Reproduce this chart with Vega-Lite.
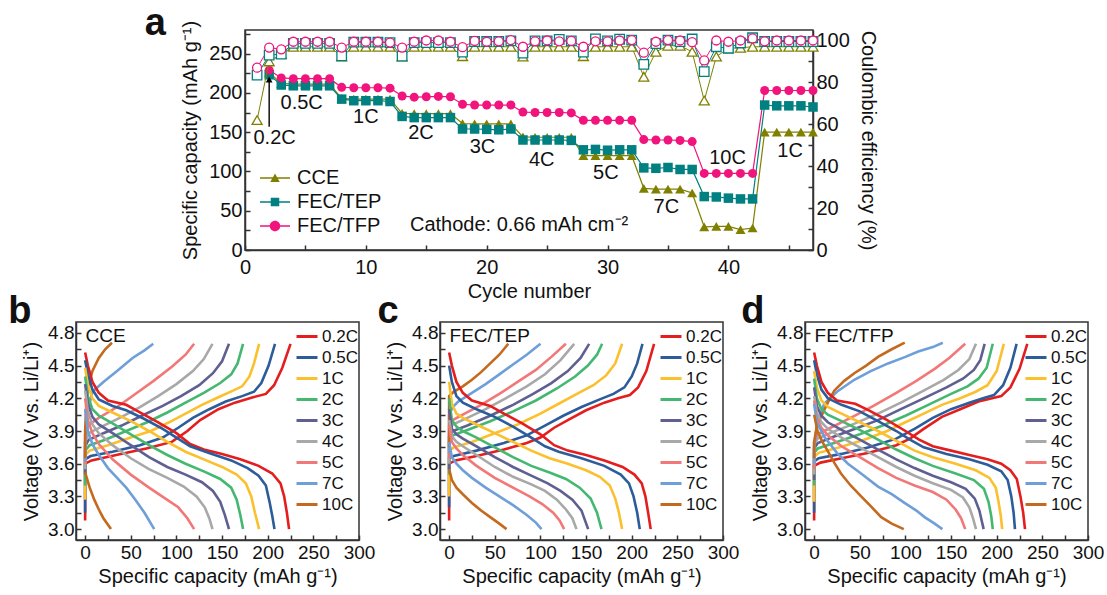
{
"$schema": "https://vega.github.io/schema/vega-lite/v6.json",
"background": "white",
"padding": {"left": 7, "top": 4, "right": 2, "bottom": 2},
"config": {
  "font": "Liberation Sans",
  "concat": {"spacing": 0},
  "view": {"stroke": "#333333", "strokeWidth": 1.5},
  "axis": {"domainColor": "#333333", "domainWidth": 1.5, "tickColor": "#333333", "tickWidth": 1.5, "tickSize": -5, "labelColor": "#111111", "titleColor": "#111111", "titleFontWeight": "normal", "grid": false, "labelFlush": false, "labelOverlap": false, "labelFont": "Liberation Sans", "titleFont": "Liberation Sans"},
  "legend": {"labelFont": "Liberation Sans", "labelColor": "#111111"},
  "text": {"font": "Liberation Sans", "color": "#111111"}
},
"datasets": {
"cyc": [
{"c":1,"s":"CCE","q":null,"e":62},{"c":2,"s":"CCE","q":226,"e":90},{"c":3,"s":"CCE","q":212,"e":93.5},{"c":4,"s":"CCE","q":211,"e":97},{"c":5,"s":"CCE","q":211,"e":97},{"c":6,"s":"CCE","q":211,"e":97},{"c":7,"s":"CCE","q":211,"e":97},{"c":8,"s":"CCE","q":193,"e":92.3},{"c":9,"s":"CCE","q":192,"e":97},{"c":10,"s":"CCE","q":192,"e":97},{"c":11,"s":"CCE","q":192,"e":97},{"c":12,"s":"CCE","q":192,"e":97},{"c":13,"s":"CCE","q":174,"e":92.3},{"c":14,"s":"CCE","q":173.5,"e":97},{"c":15,"s":"CCE","q":173.5,"e":97},{"c":16,"s":"CCE","q":173.5,"e":97},{"c":17,"s":"CCE","q":173.5,"e":97},{"c":18,"s":"CCE","q":161,"e":92.5},{"c":19,"s":"CCE","q":160.5,"e":97},{"c":20,"s":"CCE","q":160.5,"e":97},{"c":21,"s":"CCE","q":160.5,"e":97},{"c":22,"s":"CCE","q":160.5,"e":97},{"c":23,"s":"CCE","q":144,"e":92.3},{"c":24,"s":"CCE","q":143.5,"e":97},{"c":25,"s":"CCE","q":143.5,"e":97},{"c":26,"s":"CCE","q":143.5,"e":97},{"c":27,"s":"CCE","q":143.5,"e":97},{"c":28,"s":"CCE","q":120,"e":92.5},{"c":29,"s":"CCE","q":120,"e":97},{"c":30,"s":"CCE","q":120,"e":97},{"c":31,"s":"CCE","q":120,"e":97},{"c":32,"s":"CCE","q":120,"e":97},{"c":33,"s":"CCE","q":78.5,"e":82.7},{"c":34,"s":"CCE","q":77.5,"e":94.6},{"c":35,"s":"CCE","q":77.5,"e":97.5},{"c":36,"s":"CCE","q":77.5,"e":97.5},{"c":37,"s":"CCE","q":72.5,"e":94.6},{"c":38,"s":"CCE","q":29.5,"e":71.3},{"c":39,"s":"CCE","q":30,"e":92.3},{"c":40,"s":"CCE","q":30,"e":96.3},{"c":41,"s":"CCE","q":26,"e":96.5},{"c":42,"s":"CCE","q":28,"e":97},{"c":43,"s":"CCE","q":150,"e":97},{"c":44,"s":"CCE","q":150,"e":97},{"c":45,"s":"CCE","q":150,"e":97},{"c":46,"s":"CCE","q":150,"e":97},{"c":47,"s":"CCE","q":150,"e":97},
{"c":1,"s":"FEC/TEP","q":null,"e":83.5},{"c":2,"s":"FEC/TEP","q":223,"e":93},{"c":3,"s":"FEC/TEP","q":210,"e":93.5},{"c":4,"s":"FEC/TEP","q":209,"e":98.6},{"c":5,"s":"FEC/TEP","q":209,"e":98.6},{"c":6,"s":"FEC/TEP","q":209,"e":98.6},{"c":7,"s":"FEC/TEP","q":209,"e":98.6},{"c":8,"s":"FEC/TEP","q":192,"e":92.7},{"c":9,"s":"FEC/TEP","q":190,"e":99.2},{"c":10,"s":"FEC/TEP","q":190,"e":99.2},{"c":11,"s":"FEC/TEP","q":190,"e":99.2},{"c":12,"s":"FEC/TEP","q":189,"e":99},{"c":13,"s":"FEC/TEP","q":170,"e":92.5},{"c":14,"s":"FEC/TEP","q":168.5,"e":99},{"c":15,"s":"FEC/TEP","q":168.5,"e":99},{"c":16,"s":"FEC/TEP","q":168.5,"e":99},{"c":17,"s":"FEC/TEP","q":168.5,"e":99},{"c":18,"s":"FEC/TEP","q":154,"e":94.4},{"c":19,"s":"FEC/TEP","q":154,"e":99.5},{"c":20,"s":"FEC/TEP","q":153.5,"e":99.5},{"c":21,"s":"FEC/TEP","q":153,"e":99.5},{"c":22,"s":"FEC/TEP","q":154,"e":99.8},{"c":23,"s":"FEC/TEP","q":140,"e":94},{"c":24,"s":"FEC/TEP","q":140,"e":99.8},{"c":25,"s":"FEC/TEP","q":140,"e":99.8},{"c":26,"s":"FEC/TEP","q":140,"e":100.5},{"c":27,"s":"FEC/TEP","q":139.5,"e":99.8},{"c":28,"s":"FEC/TEP","q":127.5,"e":94.4},{"c":29,"s":"FEC/TEP","q":128,"e":100.8},{"c":30,"s":"FEC/TEP","q":127,"e":99.8},{"c":31,"s":"FEC/TEP","q":127.5,"e":100.6},{"c":32,"s":"FEC/TEP","q":127.5,"e":100.2},{"c":33,"s":"FEC/TEP","q":104.5,"e":88.6},{"c":34,"s":"FEC/TEP","q":104,"e":98.5},{"c":35,"s":"FEC/TEP","q":105,"e":100.2},{"c":36,"s":"FEC/TEP","q":102.5,"e":99.5},{"c":37,"s":"FEC/TEP","q":102.5,"e":100.7},{"c":38,"s":"FEC/TEP","q":68,"e":85.1},{"c":39,"s":"FEC/TEP","q":67.5,"e":97},{"c":40,"s":"FEC/TEP","q":66,"e":96.3},{"c":41,"s":"FEC/TEP","q":65,"e":98.8},{"c":42,"s":"FEC/TEP","q":65,"e":101.3},{"c":43,"s":"FEC/TEP","q":184.5,"e":99.5},{"c":44,"s":"FEC/TEP","q":183.5,"e":99.5},{"c":45,"s":"FEC/TEP","q":183.5,"e":99.5},{"c":46,"s":"FEC/TEP","q":183.5,"e":99.5},{"c":47,"s":"FEC/TEP","q":182,"e":99.5},
{"c":1,"s":"FEC/TFP","q":null,"e":87},{"c":2,"s":"FEC/TFP","q":229,"e":96.6},{"c":3,"s":"FEC/TFP","q":219,"e":95.8},{"c":4,"s":"FEC/TFP","q":218,"e":99.4},{"c":5,"s":"FEC/TFP","q":218,"e":99.4},{"c":6,"s":"FEC/TFP","q":218,"e":99.4},{"c":7,"s":"FEC/TFP","q":218,"e":99.4},{"c":8,"s":"FEC/TFP","q":207,"e":96.6},{"c":9,"s":"FEC/TFP","q":206.5,"e":99.4},{"c":10,"s":"FEC/TFP","q":206.5,"e":99.4},{"c":11,"s":"FEC/TFP","q":206.5,"e":99.4},{"c":12,"s":"FEC/TFP","q":206,"e":99},{"c":13,"s":"FEC/TFP","q":196,"e":96.6},{"c":14,"s":"FEC/TFP","q":194.5,"e":99.4},{"c":15,"s":"FEC/TFP","q":195,"e":100},{"c":16,"s":"FEC/TFP","q":195.5,"e":100},{"c":17,"s":"FEC/TFP","q":195,"e":99.4},{"c":18,"s":"FEC/TFP","q":185.5,"e":96.8},{"c":19,"s":"FEC/TFP","q":184.5,"e":99.8},{"c":20,"s":"FEC/TFP","q":184.5,"e":99.4},{"c":21,"s":"FEC/TFP","q":184.5,"e":99.6},{"c":22,"s":"FEC/TFP","q":184.5,"e":100.2},{"c":23,"s":"FEC/TFP","q":175.5,"e":97},{"c":24,"s":"FEC/TFP","q":175,"e":99.6},{"c":25,"s":"FEC/TFP","q":175,"e":100},{"c":26,"s":"FEC/TFP","q":175,"e":99.6},{"c":27,"s":"FEC/TFP","q":174.5,"e":99.8},{"c":28,"s":"FEC/TFP","q":165,"e":97},{"c":29,"s":"FEC/TFP","q":165,"e":99.6},{"c":30,"s":"FEC/TFP","q":165,"e":99.6},{"c":31,"s":"FEC/TFP","q":165,"e":100},{"c":32,"s":"FEC/TFP","q":165,"e":100.2},{"c":33,"s":"FEC/TFP","q":140.5,"e":94.2},{"c":34,"s":"FEC/TFP","q":140,"e":99.4},{"c":35,"s":"FEC/TFP","q":140,"e":100.2},{"c":36,"s":"FEC/TFP","q":139.5,"e":100},{"c":37,"s":"FEC/TFP","q":138,"e":99.2},{"c":38,"s":"FEC/TFP","q":97.5,"e":90.5},{"c":39,"s":"FEC/TFP","q":97.5,"e":100},{"c":40,"s":"FEC/TFP","q":97.5,"e":99.4},{"c":41,"s":"FEC/TFP","q":97.5,"e":100},{"c":42,"s":"FEC/TFP","q":97.5,"e":101},{"c":43,"s":"FEC/TFP","q":203,"e":99.6},{"c":44,"s":"FEC/TFP","q":203,"e":100},{"c":45,"s":"FEC/TFP","q":203,"e":100},{"c":46,"s":"FEC/TFP","q":203,"e":100},{"c":47,"s":"FEC/TFP","q":203,"e":100}
],
"bd": [
{"r":"0.2C","k":"c","q":0,"v":3.08},{"r":"0.2C","k":"c","q":0,"v":3.6},{"r":"0.2C","k":"c","q":7,"v":3.63},{"r":"0.2C","k":"c","q":34,"v":3.68},{"r":"0.2C","k":"c","q":67,"v":3.74},{"r":"0.2C","k":"c","q":95,"v":3.8},{"r":"0.2C","k":"c","q":112,"v":3.9},{"r":"0.2C","k":"c","q":126,"v":4.0},{"r":"0.2C","k":"c","q":146,"v":4.1},{"r":"0.2C","k":"c","q":164,"v":4.16},{"r":"0.2C","k":"c","q":184,"v":4.21},{"r":"0.2C","k":"c","q":198,"v":4.24},{"r":"0.2C","k":"c","q":207,"v":4.32},{"r":"0.2C","k":"c","q":216,"v":4.48},{"r":"0.2C","k":"c","q":225,"v":4.7},
{"r":"0.5C","k":"c","q":0,"v":3.15},{"r":"0.5C","k":"c","q":0,"v":3.64},{"r":"0.5C","k":"c","q":6,"v":3.67},{"r":"0.5C","k":"c","q":30,"v":3.71},{"r":"0.5C","k":"c","q":60,"v":3.77},{"r":"0.5C","k":"c","q":85,"v":3.84},{"r":"0.5C","k":"c","q":102,"v":3.93},{"r":"0.5C","k":"c","q":118,"v":4.02},{"r":"0.5C","k":"c","q":136,"v":4.1},{"r":"0.5C","k":"c","q":154,"v":4.17},{"r":"0.5C","k":"c","q":172,"v":4.22},{"r":"0.5C","k":"c","q":185,"v":4.26},{"r":"0.5C","k":"c","q":193,"v":4.34},{"r":"0.5C","k":"c","q":201,"v":4.5},{"r":"0.5C","k":"c","q":208,"v":4.7},
{"r":"1C","k":"c","q":0,"v":3.27},{"r":"1C","k":"c","q":0,"v":3.68},{"r":"1C","k":"c","q":5,"v":3.72},{"r":"1C","k":"c","q":25,"v":3.77},{"r":"1C","k":"c","q":50,"v":3.84},{"r":"1C","k":"c","q":72,"v":3.9},{"r":"1C","k":"c","q":92,"v":3.98},{"r":"1C","k":"c","q":110,"v":4.06},{"r":"1C","k":"c","q":128,"v":4.14},{"r":"1C","k":"c","q":146,"v":4.21},{"r":"1C","k":"c","q":162,"v":4.27},{"r":"1C","k":"c","q":172,"v":4.31},{"r":"1C","k":"c","q":180,"v":4.4},{"r":"1C","k":"c","q":185,"v":4.52},{"r":"1C","k":"c","q":190.6,"v":4.7},
{"r":"2C","k":"c","q":0,"v":3.4},{"r":"2C","k":"c","q":0,"v":3.72},{"r":"2C","k":"c","q":5,"v":3.77},{"r":"2C","k":"c","q":22,"v":3.82},{"r":"2C","k":"c","q":45,"v":3.9},{"r":"2C","k":"c","q":68,"v":3.98},{"r":"2C","k":"c","q":90,"v":4.07},{"r":"2C","k":"c","q":110,"v":4.16},{"r":"2C","k":"c","q":130,"v":4.25},{"r":"2C","k":"c","q":148,"v":4.34},{"r":"2C","k":"c","q":160,"v":4.42},{"r":"2C","k":"c","q":167,"v":4.52},{"r":"2C","k":"c","q":173,"v":4.7},
{"r":"3C","k":"c","q":0,"v":3.5},{"r":"3C","k":"c","q":0,"v":3.76},{"r":"3C","k":"c","q":4,"v":3.82},{"r":"3C","k":"c","q":20,"v":3.88},{"r":"3C","k":"c","q":40,"v":3.95},{"r":"3C","k":"c","q":62,"v":4.04},{"r":"3C","k":"c","q":85,"v":4.13},{"r":"3C","k":"c","q":105,"v":4.22},{"r":"3C","k":"c","q":125,"v":4.32},{"r":"3C","k":"c","q":140,"v":4.43},{"r":"3C","k":"c","q":150,"v":4.54},{"r":"3C","k":"c","q":157.6,"v":4.7},
{"r":"4C","k":"c","q":0,"v":3.55},{"r":"4C","k":"c","q":0,"v":3.8},{"r":"4C","k":"c","q":4,"v":3.88},{"r":"4C","k":"c","q":18,"v":3.94},{"r":"4C","k":"c","q":38,"v":4.02},{"r":"4C","k":"c","q":60,"v":4.12},{"r":"4C","k":"c","q":80,"v":4.22},{"r":"4C","k":"c","q":100,"v":4.33},{"r":"4C","k":"c","q":118,"v":4.45},{"r":"4C","k":"c","q":130,"v":4.56},{"r":"4C","k":"c","q":139.5,"v":4.7},
{"r":"5C","k":"c","q":0,"v":3.6},{"r":"5C","k":"c","q":0,"v":3.86},{"r":"5C","k":"c","q":3,"v":3.95},{"r":"5C","k":"c","q":15,"v":4.02},{"r":"5C","k":"c","q":35,"v":4.12},{"r":"5C","k":"c","q":55,"v":4.24},{"r":"5C","k":"c","q":75,"v":4.36},{"r":"5C","k":"c","q":95,"v":4.49},{"r":"5C","k":"c","q":110,"v":4.6},{"r":"5C","k":"c","q":119.4,"v":4.7},
{"r":"7C","k":"c","q":0,"v":3.62},{"r":"7C","k":"c","q":0,"v":3.8},{"r":"7C","k":"c","q":2,"v":4.05},{"r":"7C","k":"c","q":8,"v":4.26},{"r":"7C","k":"c","q":20,"v":4.35},{"r":"7C","k":"c","q":35,"v":4.45},{"r":"7C","k":"c","q":52,"v":4.57},{"r":"7C","k":"c","q":65,"v":4.64},{"r":"7C","k":"c","q":74.6,"v":4.7},
{"r":"10C","k":"c","q":0,"v":3.65},{"r":"10C","k":"c","q":0,"v":3.9},{"r":"10C","k":"c","q":1,"v":4.1},{"r":"10C","k":"c","q":3,"v":4.3},{"r":"10C","k":"c","q":8,"v":4.45},{"r":"10C","k":"c","q":15,"v":4.57},{"r":"10C","k":"c","q":22,"v":4.65},{"r":"10C","k":"c","q":29.4,"v":4.71},
{"r":"0.2C","k":"d","q":0,"v":4.62},{"r":"0.2C","k":"d","q":3,"v":4.5},{"r":"0.2C","k":"d","q":8,"v":4.35},{"r":"0.2C","k":"d","q":15,"v":4.25},{"r":"0.2C","k":"d","q":25,"v":4.18},{"r":"0.2C","k":"d","q":45,"v":4.14},{"r":"0.2C","k":"d","q":60,"v":4.07},{"r":"0.2C","k":"d","q":80,"v":3.98},{"r":"0.2C","k":"d","q":100,"v":3.88},{"r":"0.2C","k":"d","q":115,"v":3.78},{"r":"0.2C","k":"d","q":130,"v":3.73},{"r":"0.2C","k":"d","q":150,"v":3.69},{"r":"0.2C","k":"d","q":170,"v":3.64},{"r":"0.2C","k":"d","q":190,"v":3.58},{"r":"0.2C","k":"d","q":205,"v":3.51},{"r":"0.2C","k":"d","q":214,"v":3.42},{"r":"0.2C","k":"d","q":218,"v":3.3},{"r":"0.2C","k":"d","q":221,"v":3.15},{"r":"0.2C","k":"d","q":223.4,"v":3.0},
{"r":"0.5C","k":"d","q":0,"v":4.55},{"r":"0.5C","k":"d","q":3,"v":4.42},{"r":"0.5C","k":"d","q":8,"v":4.28},{"r":"0.5C","k":"d","q":15,"v":4.19},{"r":"0.5C","k":"d","q":30,"v":4.13},{"r":"0.5C","k":"d","q":45,"v":4.09},{"r":"0.5C","k":"d","q":65,"v":4.01},{"r":"0.5C","k":"d","q":85,"v":3.92},{"r":"0.5C","k":"d","q":100,"v":3.84},{"r":"0.5C","k":"d","q":115,"v":3.76},{"r":"0.5C","k":"d","q":135,"v":3.7},{"r":"0.5C","k":"d","q":160,"v":3.63},{"r":"0.5C","k":"d","q":178,"v":3.56},{"r":"0.5C","k":"d","q":190,"v":3.49},{"r":"0.5C","k":"d","q":198,"v":3.4},{"r":"0.5C","k":"d","q":202,"v":3.25},{"r":"0.5C","k":"d","q":205,"v":3.12},{"r":"0.5C","k":"d","q":207.4,"v":3.0},
{"r":"1C","k":"d","q":0,"v":4.48},{"r":"1C","k":"d","q":3,"v":4.32},{"r":"1C","k":"d","q":8,"v":4.2},{"r":"1C","k":"d","q":15,"v":4.13},{"r":"1C","k":"d","q":30,"v":4.07},{"r":"1C","k":"d","q":50,"v":3.99},{"r":"1C","k":"d","q":70,"v":3.9},{"r":"1C","k":"d","q":90,"v":3.8},{"r":"1C","k":"d","q":110,"v":3.71},{"r":"1C","k":"d","q":130,"v":3.64},{"r":"1C","k":"d","q":150,"v":3.57},{"r":"1C","k":"d","q":166,"v":3.5},{"r":"1C","k":"d","q":176,"v":3.42},{"r":"1C","k":"d","q":182,"v":3.3},{"r":"1C","k":"d","q":186,"v":3.15},{"r":"1C","k":"d","q":190.6,"v":3.0},
{"r":"2C","k":"d","q":0,"v":4.4},{"r":"2C","k":"d","q":3,"v":4.22},{"r":"2C","k":"d","q":8,"v":4.1},{"r":"2C","k":"d","q":15,"v":4.04},{"r":"2C","k":"d","q":30,"v":3.97},{"r":"2C","k":"d","q":50,"v":3.87},{"r":"2C","k":"d","q":70,"v":3.77},{"r":"2C","k":"d","q":90,"v":3.68},{"r":"2C","k":"d","q":110,"v":3.6},{"r":"2C","k":"d","q":130,"v":3.53},{"r":"2C","k":"d","q":148,"v":3.46},{"r":"2C","k":"d","q":160,"v":3.38},{"r":"2C","k":"d","q":166,"v":3.27},{"r":"2C","k":"d","q":170,"v":3.13},{"r":"2C","k":"d","q":173,"v":3.0},
{"r":"3C","k":"d","q":0,"v":4.33},{"r":"3C","k":"d","q":3,"v":4.15},{"r":"3C","k":"d","q":8,"v":4.03},{"r":"3C","k":"d","q":15,"v":3.96},{"r":"3C","k":"d","q":30,"v":3.88},{"r":"3C","k":"d","q":50,"v":3.77},{"r":"3C","k":"d","q":70,"v":3.66},{"r":"3C","k":"d","q":90,"v":3.57},{"r":"3C","k":"d","q":110,"v":3.5},{"r":"3C","k":"d","q":128,"v":3.43},{"r":"3C","k":"d","q":140,"v":3.35},{"r":"3C","k":"d","q":148,"v":3.25},{"r":"3C","k":"d","q":153,"v":3.13},{"r":"3C","k":"d","q":157.6,"v":3.0},
{"r":"4C","k":"d","q":0,"v":4.27},{"r":"4C","k":"d","q":3,"v":4.08},{"r":"4C","k":"d","q":8,"v":3.96},{"r":"4C","k":"d","q":15,"v":3.88},{"r":"4C","k":"d","q":30,"v":3.77},{"r":"4C","k":"d","q":50,"v":3.65},{"r":"4C","k":"d","q":70,"v":3.55},{"r":"4C","k":"d","q":90,"v":3.47},{"r":"4C","k":"d","q":108,"v":3.39},{"r":"4C","k":"d","q":122,"v":3.3},{"r":"4C","k":"d","q":131,"v":3.2},{"r":"4C","k":"d","q":136,"v":3.1},{"r":"4C","k":"d","q":139.5,"v":3.0},
{"r":"5C","k":"d","q":0,"v":4.2},{"r":"5C","k":"d","q":3,"v":4.0},{"r":"5C","k":"d","q":8,"v":3.88},{"r":"5C","k":"d","q":15,"v":3.78},{"r":"5C","k":"d","q":30,"v":3.64},{"r":"5C","k":"d","q":50,"v":3.5},{"r":"5C","k":"d","q":70,"v":3.38},{"r":"5C","k":"d","q":88,"v":3.28},{"r":"5C","k":"d","q":102,"v":3.2},{"r":"5C","k":"d","q":112,"v":3.1},{"r":"5C","k":"d","q":119.4,"v":3.0},
{"r":"7C","k":"d","q":0,"v":4.1},{"r":"7C","k":"d","q":3,"v":3.9},{"r":"7C","k":"d","q":8,"v":3.78},{"r":"7C","k":"d","q":15,"v":3.68},{"r":"7C","k":"d","q":25,"v":3.56},{"r":"7C","k":"d","q":35,"v":3.47},{"r":"7C","k":"d","q":45,"v":3.38},{"r":"7C","k":"d","q":55,"v":3.27},{"r":"7C","k":"d","q":65,"v":3.15},{"r":"7C","k":"d","q":75.7,"v":3.0},
{"r":"10C","k":"d","q":0,"v":3.52},{"r":"10C","k":"d","q":5,"v":3.38},{"r":"10C","k":"d","q":10,"v":3.27},{"r":"10C","k":"d","q":15,"v":3.18},{"r":"10C","k":"d","q":20,"v":3.1},{"r":"10C","k":"d","q":28.3,"v":3.0}
],
"cd": [
{"r":"0.2C","k":"c","q":0,"v":3.08},{"r":"0.2C","k":"c","q":0,"v":3.6},{"r":"0.2C","k":"c","q":7,"v":3.63},{"r":"0.2C","k":"c","q":30,"v":3.67},{"r":"0.2C","k":"c","q":60,"v":3.73},{"r":"0.2C","k":"c","q":85,"v":3.79},{"r":"0.2C","k":"c","q":100,"v":3.84},{"r":"0.2C","k":"c","q":115,"v":3.93},{"r":"0.2C","k":"c","q":130,"v":4.0},{"r":"0.2C","k":"c","q":150,"v":4.09},{"r":"0.2C","k":"c","q":170,"v":4.16},{"r":"0.2C","k":"c","q":185,"v":4.2},{"r":"0.2C","k":"c","q":198,"v":4.23},{"r":"0.2C","k":"c","q":207,"v":4.3},{"r":"0.2C","k":"c","q":216,"v":4.45},{"r":"0.2C","k":"c","q":224.5,"v":4.7},
{"r":"0.5C","k":"c","q":0,"v":3.2},{"r":"0.5C","k":"c","q":0,"v":3.65},{"r":"0.5C","k":"c","q":5,"v":3.67},{"r":"0.5C","k":"c","q":30,"v":3.72},{"r":"0.5C","k":"c","q":60,"v":3.79},{"r":"0.5C","k":"c","q":85,"v":3.86},{"r":"0.5C","k":"c","q":105,"v":3.95},{"r":"0.5C","k":"c","q":125,"v":4.04},{"r":"0.5C","k":"c","q":145,"v":4.12},{"r":"0.5C","k":"c","q":165,"v":4.19},{"r":"0.5C","k":"c","q":180,"v":4.24},{"r":"0.5C","k":"c","q":192,"v":4.3},{"r":"0.5C","k":"c","q":200,"v":4.4},{"r":"0.5C","k":"c","q":206,"v":4.52},{"r":"0.5C","k":"c","q":211.8,"v":4.7},
{"r":"1C","k":"c","q":0,"v":3.3},{"r":"1C","k":"c","q":0,"v":3.72},{"r":"1C","k":"c","q":5,"v":3.75},{"r":"1C","k":"c","q":25,"v":3.8},{"r":"1C","k":"c","q":50,"v":3.88},{"r":"1C","k":"c","q":75,"v":3.96},{"r":"1C","k":"c","q":100,"v":4.06},{"r":"1C","k":"c","q":120,"v":4.15},{"r":"1C","k":"c","q":140,"v":4.24},{"r":"1C","k":"c","q":158,"v":4.32},{"r":"1C","k":"c","q":172,"v":4.41},{"r":"1C","k":"c","q":182,"v":4.52},{"r":"1C","k":"c","q":189.5,"v":4.7},
{"r":"2C","k":"c","q":0,"v":3.5},{"r":"2C","k":"c","q":0,"v":3.8},{"r":"2C","k":"c","q":4,"v":3.86},{"r":"2C","k":"c","q":20,"v":3.91},{"r":"2C","k":"c","q":45,"v":3.99},{"r":"2C","k":"c","q":70,"v":4.08},{"r":"2C","k":"c","q":95,"v":4.18},{"r":"2C","k":"c","q":118,"v":4.29},{"r":"2C","k":"c","q":138,"v":4.4},{"r":"2C","k":"c","q":152,"v":4.5},{"r":"2C","k":"c","q":162,"v":4.6},{"r":"2C","k":"c","q":167.6,"v":4.7},
{"r":"3C","k":"c","q":0,"v":3.55},{"r":"3C","k":"c","q":0,"v":3.85},{"r":"3C","k":"c","q":4,"v":3.9},{"r":"3C","k":"c","q":20,"v":3.95},{"r":"3C","k":"c","q":45,"v":4.04},{"r":"3C","k":"c","q":70,"v":4.14},{"r":"3C","k":"c","q":92,"v":4.24},{"r":"3C","k":"c","q":112,"v":4.34},{"r":"3C","k":"c","q":130,"v":4.45},{"r":"3C","k":"c","q":144,"v":4.57},{"r":"3C","k":"c","q":153.4,"v":4.7},
{"r":"4C","k":"c","q":0,"v":3.6},{"r":"4C","k":"c","q":0,"v":3.9},{"r":"4C","k":"c","q":4,"v":3.96},{"r":"4C","k":"c","q":20,"v":4.02},{"r":"4C","k":"c","q":40,"v":4.1},{"r":"4C","k":"c","q":62,"v":4.2},{"r":"4C","k":"c","q":85,"v":4.31},{"r":"4C","k":"c","q":105,"v":4.42},{"r":"4C","k":"c","q":122,"v":4.55},{"r":"4C","k":"c","q":137,"v":4.7},
{"r":"5C","k":"c","q":0,"v":3.65},{"r":"5C","k":"c","q":0,"v":3.95},{"r":"5C","k":"c","q":4,"v":4.0},{"r":"5C","k":"c","q":15,"v":4.05},{"r":"5C","k":"c","q":35,"v":4.14},{"r":"5C","k":"c","q":55,"v":4.24},{"r":"5C","k":"c","q":75,"v":4.35},{"r":"5C","k":"c","q":95,"v":4.46},{"r":"5C","k":"c","q":112,"v":4.58},{"r":"5C","k":"c","q":127.9,"v":4.7},
{"r":"7C","k":"c","q":0,"v":3.7},{"r":"7C","k":"c","q":0,"v":4.05},{"r":"7C","k":"c","q":4,"v":4.12},{"r":"7C","k":"c","q":10,"v":4.17},{"r":"7C","k":"c","q":25,"v":4.25},{"r":"7C","k":"c","q":40,"v":4.33},{"r":"7C","k":"c","q":55,"v":4.42},{"r":"7C","k":"c","q":70,"v":4.51},{"r":"7C","k":"c","q":85,"v":4.6},{"r":"7C","k":"c","q":100.1,"v":4.7},
{"r":"10C","k":"c","q":0,"v":3.75},{"r":"10C","k":"c","q":0,"v":4.22},{"r":"10C","k":"c","q":5,"v":4.26},{"r":"10C","k":"c","q":15,"v":4.31},{"r":"10C","k":"c","q":25,"v":4.37},{"r":"10C","k":"c","q":35,"v":4.44},{"r":"10C","k":"c","q":45,"v":4.52},{"r":"10C","k":"c","q":55,"v":4.6},{"r":"10C","k":"c","q":64.8,"v":4.7},
{"r":"0.2C","k":"d","q":0,"v":4.62},{"r":"0.2C","k":"d","q":3,"v":4.5},{"r":"0.2C","k":"d","q":8,"v":4.35},{"r":"0.2C","k":"d","q":15,"v":4.25},{"r":"0.2C","k":"d","q":25,"v":4.18},{"r":"0.2C","k":"d","q":45,"v":4.13},{"r":"0.2C","k":"d","q":60,"v":4.06},{"r":"0.2C","k":"d","q":80,"v":3.97},{"r":"0.2C","k":"d","q":100,"v":3.87},{"r":"0.2C","k":"d","q":115,"v":3.77},{"r":"0.2C","k":"d","q":130,"v":3.72},{"r":"0.2C","k":"d","q":150,"v":3.68},{"r":"0.2C","k":"d","q":170,"v":3.63},{"r":"0.2C","k":"d","q":190,"v":3.57},{"r":"0.2C","k":"d","q":203,"v":3.5},{"r":"0.2C","k":"d","q":211,"v":3.42},{"r":"0.2C","k":"d","q":215,"v":3.3},{"r":"0.2C","k":"d","q":218,"v":3.15},{"r":"0.2C","k":"d","q":220.8,"v":3.0},
{"r":"0.5C","k":"d","q":0,"v":4.5},{"r":"0.5C","k":"d","q":3,"v":4.35},{"r":"0.5C","k":"d","q":8,"v":4.22},{"r":"0.5C","k":"d","q":15,"v":4.16},{"r":"0.5C","k":"d","q":30,"v":4.1},{"r":"0.5C","k":"d","q":50,"v":4.03},{"r":"0.5C","k":"d","q":70,"v":3.94},{"r":"0.5C","k":"d","q":90,"v":3.84},{"r":"0.5C","k":"d","q":105,"v":3.76},{"r":"0.5C","k":"d","q":120,"v":3.71},{"r":"0.5C","k":"d","q":145,"v":3.65},{"r":"0.5C","k":"d","q":170,"v":3.58},{"r":"0.5C","k":"d","q":188,"v":3.5},{"r":"0.5C","k":"d","q":197,"v":3.42},{"r":"0.5C","k":"d","q":202,"v":3.3},{"r":"0.5C","k":"d","q":206,"v":3.15},{"r":"0.5C","k":"d","q":208.8,"v":3.0},
{"r":"1C","k":"d","q":0,"v":4.35},{"r":"1C","k":"d","q":3,"v":4.15},{"r":"1C","k":"d","q":8,"v":4.06},{"r":"1C","k":"d","q":15,"v":4.02},{"r":"1C","k":"d","q":30,"v":3.96},{"r":"1C","k":"d","q":50,"v":3.88},{"r":"1C","k":"d","q":70,"v":3.8},{"r":"1C","k":"d","q":90,"v":3.72},{"r":"1C","k":"d","q":110,"v":3.65},{"r":"1C","k":"d","q":130,"v":3.6},{"r":"1C","k":"d","q":150,"v":3.54},{"r":"1C","k":"d","q":165,"v":3.48},{"r":"1C","k":"d","q":176,"v":3.4},{"r":"1C","k":"d","q":182,"v":3.28},{"r":"1C","k":"d","q":186,"v":3.15},{"r":"1C","k":"d","q":189.5,"v":3.0},
{"r":"2C","k":"d","q":0,"v":4.2},{"r":"2C","k":"d","q":3,"v":4.0},{"r":"2C","k":"d","q":8,"v":3.94},{"r":"2C","k":"d","q":15,"v":3.9},{"r":"2C","k":"d","q":30,"v":3.84},{"r":"2C","k":"d","q":50,"v":3.75},{"r":"2C","k":"d","q":70,"v":3.66},{"r":"2C","k":"d","q":90,"v":3.58},{"r":"2C","k":"d","q":110,"v":3.52},{"r":"2C","k":"d","q":128,"v":3.46},{"r":"2C","k":"d","q":143,"v":3.38},{"r":"2C","k":"d","q":155,"v":3.28},{"r":"2C","k":"d","q":162,"v":3.15},{"r":"2C","k":"d","q":166.9,"v":3.0},
{"r":"3C","k":"d","q":0,"v":4.1},{"r":"3C","k":"d","q":3,"v":3.92},{"r":"3C","k":"d","q":8,"v":3.87},{"r":"3C","k":"d","q":15,"v":3.83},{"r":"3C","k":"d","q":30,"v":3.76},{"r":"3C","k":"d","q":50,"v":3.66},{"r":"3C","k":"d","q":70,"v":3.57},{"r":"3C","k":"d","q":90,"v":3.49},{"r":"3C","k":"d","q":108,"v":3.42},{"r":"3C","k":"d","q":122,"v":3.35},{"r":"3C","k":"d","q":135,"v":3.27},{"r":"3C","k":"d","q":145,"v":3.17},{"r":"3C","k":"d","q":152.3,"v":3.0},
{"r":"4C","k":"d","q":0,"v":4.0},{"r":"4C","k":"d","q":3,"v":3.85},{"r":"4C","k":"d","q":8,"v":3.8},{"r":"4C","k":"d","q":15,"v":3.76},{"r":"4C","k":"d","q":30,"v":3.68},{"r":"4C","k":"d","q":50,"v":3.57},{"r":"4C","k":"d","q":70,"v":3.48},{"r":"4C","k":"d","q":90,"v":3.41},{"r":"4C","k":"d","q":105,"v":3.35},{"r":"4C","k":"d","q":118,"v":3.27},{"r":"4C","k":"d","q":128,"v":3.18},{"r":"4C","k":"d","q":135,"v":3.1},{"r":"4C","k":"d","q":139.5,"v":3.0},
{"r":"5C","k":"d","q":0,"v":3.95},{"r":"5C","k":"d","q":3,"v":3.8},{"r":"5C","k":"d","q":8,"v":3.74},{"r":"5C","k":"d","q":15,"v":3.68},{"r":"5C","k":"d","q":30,"v":3.58},{"r":"5C","k":"d","q":50,"v":3.47},{"r":"5C","k":"d","q":70,"v":3.38},{"r":"5C","k":"d","q":88,"v":3.3},{"r":"5C","k":"d","q":102,"v":3.23},{"r":"5C","k":"d","q":114,"v":3.15},{"r":"5C","k":"d","q":121,"v":3.08},{"r":"5C","k":"d","q":126,"v":3.0},
{"r":"7C","k":"d","q":0,"v":3.8},{"r":"7C","k":"d","q":3,"v":3.66},{"r":"7C","k":"d","q":8,"v":3.6},{"r":"7C","k":"d","q":15,"v":3.54},{"r":"7C","k":"d","q":25,"v":3.47},{"r":"7C","k":"d","q":40,"v":3.38},{"r":"7C","k":"d","q":55,"v":3.3},{"r":"7C","k":"d","q":70,"v":3.22},{"r":"7C","k":"d","q":85,"v":3.13},{"r":"7C","k":"d","q":95,"v":3.06},{"r":"7C","k":"d","q":101.2,"v":3.0},
{"r":"10C","k":"d","q":0,"v":3.55},{"r":"10C","k":"d","q":3,"v":3.45},{"r":"10C","k":"d","q":8,"v":3.38},{"r":"10C","k":"d","q":15,"v":3.32},{"r":"10C","k":"d","q":25,"v":3.24},{"r":"10C","k":"d","q":35,"v":3.17},{"r":"10C","k":"d","q":45,"v":3.11},{"r":"10C","k":"d","q":55,"v":3.05},{"r":"10C","k":"d","q":62.9,"v":3.0}
],
"dd": [
{"r":"0.2C","k":"c","q":0,"v":3.08},{"r":"0.2C","k":"c","q":0,"v":3.58},{"r":"0.2C","k":"c","q":7,"v":3.61},{"r":"0.2C","k":"c","q":30,"v":3.65},{"r":"0.2C","k":"c","q":60,"v":3.7},{"r":"0.2C","k":"c","q":90,"v":3.77},{"r":"0.2C","k":"c","q":105,"v":3.83},{"r":"0.2C","k":"c","q":120,"v":3.92},{"r":"0.2C","k":"c","q":140,"v":4.03},{"r":"0.2C","k":"c","q":160,"v":4.1},{"r":"0.2C","k":"c","q":180,"v":4.17},{"r":"0.2C","k":"c","q":195,"v":4.2},{"r":"0.2C","k":"c","q":205,"v":4.22},{"r":"0.2C","k":"c","q":215,"v":4.3},{"r":"0.2C","k":"c","q":225,"v":4.47},{"r":"0.2C","k":"c","q":233.5,"v":4.7},
{"r":"0.5C","k":"c","q":0,"v":3.15},{"r":"0.5C","k":"c","q":0,"v":3.62},{"r":"0.5C","k":"c","q":5,"v":3.65},{"r":"0.5C","k":"c","q":30,"v":3.69},{"r":"0.5C","k":"c","q":60,"v":3.75},{"r":"0.5C","k":"c","q":90,"v":3.83},{"r":"0.5C","k":"c","q":110,"v":3.92},{"r":"0.5C","k":"c","q":130,"v":4.02},{"r":"0.5C","k":"c","q":150,"v":4.1},{"r":"0.5C","k":"c","q":170,"v":4.16},{"r":"0.5C","k":"c","q":185,"v":4.2},{"r":"0.5C","k":"c","q":197,"v":4.23},{"r":"0.5C","k":"c","q":207,"v":4.32},{"r":"0.5C","k":"c","q":215,"v":4.48},{"r":"0.5C","k":"c","q":221.8,"v":4.7},
{"r":"1C","k":"c","q":0,"v":3.25},{"r":"1C","k":"c","q":0,"v":3.66},{"r":"1C","k":"c","q":5,"v":3.7},{"r":"1C","k":"c","q":28,"v":3.75},{"r":"1C","k":"c","q":55,"v":3.82},{"r":"1C","k":"c","q":80,"v":3.9},{"r":"1C","k":"c","q":100,"v":3.98},{"r":"1C","k":"c","q":120,"v":4.06},{"r":"1C","k":"c","q":140,"v":4.14},{"r":"1C","k":"c","q":160,"v":4.2},{"r":"1C","k":"c","q":177,"v":4.26},{"r":"1C","k":"c","q":190,"v":4.32},{"r":"1C","k":"c","q":200,"v":4.45},{"r":"1C","k":"c","q":207.8,"v":4.7},
{"r":"2C","k":"c","q":0,"v":3.4},{"r":"2C","k":"c","q":0,"v":3.7},{"r":"2C","k":"c","q":4,"v":3.74},{"r":"2C","k":"c","q":25,"v":3.8},{"r":"2C","k":"c","q":50,"v":3.87},{"r":"2C","k":"c","q":75,"v":3.95},{"r":"2C","k":"c","q":100,"v":4.04},{"r":"2C","k":"c","q":125,"v":4.14},{"r":"2C","k":"c","q":150,"v":4.24},{"r":"2C","k":"c","q":168,"v":4.31},{"r":"2C","k":"c","q":180,"v":4.38},{"r":"2C","k":"c","q":189,"v":4.48},{"r":"2C","k":"c","q":195.7,"v":4.7},
{"r":"3C","k":"c","q":0,"v":3.45},{"r":"3C","k":"c","q":0,"v":3.74},{"r":"3C","k":"c","q":4,"v":3.79},{"r":"3C","k":"c","q":22,"v":3.85},{"r":"3C","k":"c","q":45,"v":3.92},{"r":"3C","k":"c","q":70,"v":4.0},{"r":"3C","k":"c","q":95,"v":4.1},{"r":"3C","k":"c","q":120,"v":4.2},{"r":"3C","k":"c","q":145,"v":4.3},{"r":"3C","k":"c","q":163,"v":4.38},{"r":"3C","k":"c","q":175,"v":4.46},{"r":"3C","k":"c","q":182,"v":4.55},{"r":"3C","k":"c","q":186.8,"v":4.7},
{"r":"4C","k":"c","q":0,"v":3.5},{"r":"4C","k":"c","q":0,"v":3.78},{"r":"4C","k":"c","q":4,"v":3.83},{"r":"4C","k":"c","q":20,"v":3.89},{"r":"4C","k":"c","q":45,"v":3.97},{"r":"4C","k":"c","q":70,"v":4.06},{"r":"4C","k":"c","q":95,"v":4.16},{"r":"4C","k":"c","q":120,"v":4.27},{"r":"4C","k":"c","q":142,"v":4.37},{"r":"4C","k":"c","q":158,"v":4.46},{"r":"4C","k":"c","q":170,"v":4.56},{"r":"4C","k":"c","q":177.3,"v":4.7},
{"r":"5C","k":"c","q":0,"v":3.55},{"r":"5C","k":"c","q":0,"v":3.8},{"r":"5C","k":"c","q":4,"v":3.87},{"r":"5C","k":"c","q":18,"v":3.93},{"r":"5C","k":"c","q":40,"v":4.02},{"r":"5C","k":"c","q":65,"v":4.13},{"r":"5C","k":"c","q":90,"v":4.25},{"r":"5C","k":"c","q":112,"v":4.36},{"r":"5C","k":"c","q":132,"v":4.47},{"r":"5C","k":"c","q":148,"v":4.57},{"r":"5C","k":"c","q":165.5,"v":4.7},
{"r":"7C","k":"c","q":0,"v":3.6},{"r":"7C","k":"c","q":0,"v":3.75},{"r":"7C","k":"c","q":3,"v":3.95},{"r":"7C","k":"c","q":11,"v":4.15},{"r":"7C","k":"c","q":25,"v":4.26},{"r":"7C","k":"c","q":44,"v":4.37},{"r":"7C","k":"c","q":62,"v":4.45},{"r":"7C","k":"c","q":81,"v":4.52},{"r":"7C","k":"c","q":100,"v":4.58},{"r":"7C","k":"c","q":114,"v":4.63},{"r":"7C","k":"c","q":130,"v":4.67},{"r":"7C","k":"c","q":140.9,"v":4.71},
{"r":"10C","k":"c","q":0,"v":3.65},{"r":"10C","k":"c","q":0,"v":3.8},{"r":"10C","k":"c","q":3,"v":3.95},{"r":"10C","k":"c","q":7.4,"v":4.03},{"r":"10C","k":"c","q":15,"v":4.16},{"r":"10C","k":"c","q":22,"v":4.27},{"r":"10C","k":"c","q":33,"v":4.36},{"r":"10C","k":"c","q":44,"v":4.43},{"r":"10C","k":"c","q":57,"v":4.5},{"r":"10C","k":"c","q":70,"v":4.58},{"r":"10C","k":"c","q":85,"v":4.65},{"r":"10C","k":"c","q":99.3,"v":4.71},
{"r":"0.2C","k":"d","q":0,"v":4.62},{"r":"0.2C","k":"d","q":3,"v":4.5},{"r":"0.2C","k":"d","q":8,"v":4.35},{"r":"0.2C","k":"d","q":15,"v":4.25},{"r":"0.2C","k":"d","q":25,"v":4.18},{"r":"0.2C","k":"d","q":45,"v":4.15},{"r":"0.2C","k":"d","q":60,"v":4.09},{"r":"0.2C","k":"d","q":80,"v":4.0},{"r":"0.2C","k":"d","q":100,"v":3.9},{"r":"0.2C","k":"d","q":115,"v":3.82},{"r":"0.2C","k":"d","q":130,"v":3.76},{"r":"0.2C","k":"d","q":150,"v":3.72},{"r":"0.2C","k":"d","q":170,"v":3.68},{"r":"0.2C","k":"d","q":190,"v":3.64},{"r":"0.2C","k":"d","q":205,"v":3.6},{"r":"0.2C","k":"d","q":215,"v":3.54},{"r":"0.2C","k":"d","q":222,"v":3.46},{"r":"0.2C","k":"d","q":226,"v":3.3},{"r":"0.2C","k":"d","q":229,"v":3.15},{"r":"0.2C","k":"d","q":231,"v":3.0},
{"r":"0.5C","k":"d","q":0,"v":4.55},{"r":"0.5C","k":"d","q":3,"v":4.42},{"r":"0.5C","k":"d","q":8,"v":4.28},{"r":"0.5C","k":"d","q":15,"v":4.2},{"r":"0.5C","k":"d","q":30,"v":4.14},{"r":"0.5C","k":"d","q":50,"v":4.08},{"r":"0.5C","k":"d","q":70,"v":3.99},{"r":"0.5C","k":"d","q":90,"v":3.9},{"r":"0.5C","k":"d","q":105,"v":3.82},{"r":"0.5C","k":"d","q":120,"v":3.75},{"r":"0.5C","k":"d","q":145,"v":3.69},{"r":"0.5C","k":"d","q":170,"v":3.64},{"r":"0.5C","k":"d","q":190,"v":3.59},{"r":"0.5C","k":"d","q":205,"v":3.53},{"r":"0.5C","k":"d","q":212,"v":3.45},{"r":"0.5C","k":"d","q":216,"v":3.3},{"r":"0.5C","k":"d","q":218.5,"v":3.15},{"r":"0.5C","k":"d","q":220,"v":3.0},
{"r":"1C","k":"d","q":0,"v":4.45},{"r":"1C","k":"d","q":3,"v":4.3},{"r":"1C","k":"d","q":8,"v":4.18},{"r":"1C","k":"d","q":15,"v":4.12},{"r":"1C","k":"d","q":30,"v":4.06},{"r":"1C","k":"d","q":50,"v":3.98},{"r":"1C","k":"d","q":70,"v":3.9},{"r":"1C","k":"d","q":90,"v":3.81},{"r":"1C","k":"d","q":110,"v":3.72},{"r":"1C","k":"d","q":130,"v":3.66},{"r":"1C","k":"d","q":155,"v":3.6},{"r":"1C","k":"d","q":177,"v":3.54},{"r":"1C","k":"d","q":192,"v":3.47},{"r":"1C","k":"d","q":199,"v":3.38},{"r":"1C","k":"d","q":202,"v":3.25},{"r":"1C","k":"d","q":204.5,"v":3.12},{"r":"1C","k":"d","q":206,"v":3.0},
{"r":"2C","k":"d","q":0,"v":4.38},{"r":"2C","k":"d","q":3,"v":4.2},{"r":"2C","k":"d","q":8,"v":4.1},{"r":"2C","k":"d","q":15,"v":4.05},{"r":"2C","k":"d","q":30,"v":3.99},{"r":"2C","k":"d","q":50,"v":3.91},{"r":"2C","k":"d","q":70,"v":3.82},{"r":"2C","k":"d","q":90,"v":3.73},{"r":"2C","k":"d","q":110,"v":3.65},{"r":"2C","k":"d","q":130,"v":3.58},{"r":"2C","k":"d","q":155,"v":3.51},{"r":"2C","k":"d","q":175,"v":3.45},{"r":"2C","k":"d","q":186,"v":3.37},{"r":"2C","k":"d","q":191,"v":3.25},{"r":"2C","k":"d","q":194,"v":3.12},{"r":"2C","k":"d","q":195.7,"v":3.0},
{"r":"3C","k":"d","q":0,"v":4.3},{"r":"3C","k":"d","q":3,"v":4.13},{"r":"3C","k":"d","q":8,"v":4.04},{"r":"3C","k":"d","q":15,"v":3.98},{"r":"3C","k":"d","q":30,"v":3.91},{"r":"3C","k":"d","q":50,"v":3.82},{"r":"3C","k":"d","q":70,"v":3.73},{"r":"3C","k":"d","q":90,"v":3.64},{"r":"3C","k":"d","q":110,"v":3.56},{"r":"3C","k":"d","q":130,"v":3.49},{"r":"3C","k":"d","q":150,"v":3.43},{"r":"3C","k":"d","q":166,"v":3.37},{"r":"3C","k":"d","q":176,"v":3.28},{"r":"3C","k":"d","q":181,"v":3.17},{"r":"3C","k":"d","q":185.7,"v":3.0},
{"r":"4C","k":"d","q":0,"v":4.22},{"r":"4C","k":"d","q":3,"v":4.07},{"r":"4C","k":"d","q":8,"v":3.98},{"r":"4C","k":"d","q":15,"v":3.92},{"r":"4C","k":"d","q":30,"v":3.84},{"r":"4C","k":"d","q":50,"v":3.75},{"r":"4C","k":"d","q":70,"v":3.66},{"r":"4C","k":"d","q":90,"v":3.57},{"r":"4C","k":"d","q":110,"v":3.49},{"r":"4C","k":"d","q":130,"v":3.42},{"r":"4C","k":"d","q":150,"v":3.36},{"r":"4C","k":"d","q":163,"v":3.29},{"r":"4C","k":"d","q":170,"v":3.2},{"r":"4C","k":"d","q":174,"v":3.1},{"r":"4C","k":"d","q":177.3,"v":3.0},
{"r":"5C","k":"d","q":0,"v":4.18},{"r":"5C","k":"d","q":3,"v":4.02},{"r":"5C","k":"d","q":8,"v":3.93},{"r":"5C","k":"d","q":15,"v":3.86},{"r":"5C","k":"d","q":30,"v":3.76},{"r":"5C","k":"d","q":50,"v":3.66},{"r":"5C","k":"d","q":70,"v":3.56},{"r":"5C","k":"d","q":90,"v":3.47},{"r":"5C","k":"d","q":110,"v":3.4},{"r":"5C","k":"d","q":130,"v":3.34},{"r":"5C","k":"d","q":145,"v":3.27},{"r":"5C","k":"d","q":155,"v":3.18},{"r":"5C","k":"d","q":161,"v":3.1},{"r":"5C","k":"d","q":165.5,"v":3.0},
{"r":"7C","k":"d","q":0,"v":4.15},{"r":"7C","k":"d","q":3,"v":3.98},{"r":"7C","k":"d","q":11,"v":3.85},{"r":"7C","k":"d","q":25,"v":3.7},{"r":"7C","k":"d","q":37,"v":3.6},{"r":"7C","k":"d","q":50,"v":3.52},{"r":"7C","k":"d","q":70,"v":3.39},{"r":"7C","k":"d","q":85,"v":3.32},{"r":"7C","k":"d","q":99,"v":3.24},{"r":"7C","k":"d","q":112,"v":3.17},{"r":"7C","k":"d","q":121,"v":3.11},{"r":"7C","k":"d","q":132,"v":3.05},{"r":"7C","k":"d","q":140.5,"v":3.0},
{"r":"10C","k":"d","q":0,"v":4.05},{"r":"10C","k":"d","q":3.7,"v":3.9},{"r":"10C","k":"d","q":9,"v":3.8},{"r":"10C","k":"d","q":14.7,"v":3.72},{"r":"10C","k":"d","q":22,"v":3.61},{"r":"10C","k":"d","q":29.4,"v":3.51},{"r":"10C","k":"d","q":40,"v":3.4},{"r":"10C","k":"d","q":51.5,"v":3.3},{"r":"10C","k":"d","q":62,"v":3.21},{"r":"10C","k":"d","q":73.5,"v":3.11},{"r":"10C","k":"d","q":85,"v":3.05},{"r":"10C","k":"d","q":98.2,"v":3.0}
]
},
"align": "none",
"spacing": -10,
"resolve": {"scale": {"color": "independent", "shape": "independent", "size": "independent", "x": "independent", "y": "independent"}, "legend": {"color": "independent", "shape": "independent"}},
"vconcat": [
{
 "spacing": 0,
 "align": "none",
 "resolve": {"scale": {"color": "independent", "shape": "independent", "x": "independent", "y": "independent"}, "legend": {"color": "independent", "shape": "independent"}},
 "hconcat": [
  {"width": 67, "height": 10, "view": {"stroke": null}, "data": {"values": [{"t": ""}]}, "mark": {"type": "text"},
   "encoding": {"x": {"datum": 0, "type": "quantitative", "axis": null}, "y": {"datum": 0, "type": "quantitative", "axis": null}, "text": {"field": "t"}}},
  {
   "width": 568, "height": 220,
   "resolve": {"scale": {"y": "independent", "color": "independent", "shape": "independent", "size": "independent"}, "legend": {"color": "independent", "shape": "independent"}},
   "layer": [
    {
     "resolve": {"scale": {"color": "independent", "shape": "independent", "size": "independent"}, "legend": {"color": "independent", "shape": "independent"}},
     "encoding": {
       "x": {"field": "c", "type": "quantitative", "title": "Cycle number", "scale": {"domain": [0, 47], "nice": false}, "axis": {"values": [0,5,10,15,20,25,30,35,40,45], "labelExpr": "datum.value % 10 === 0 ? datum.label : ''", "labelFontSize": 20, "titleFontSize": 20, "labelPadding": 12, "titlePadding": 4}},
       "y": {"field": "q", "type": "quantitative", "title": "Specific capacity (mAh g⁻¹)", "scale": {"domain": [0, 280], "nice": false}, "axis": {"values": [0,25,50,75,100,125,150,175,200,225,250,275], "labelExpr": "datum.value % 50 === 0 ? datum.label : ''", "labelFontSize": 20, "titleFontSize": 20, "labelPadding": 8, "titlePadding": 8}}
     },
     "layer": [
       {"data": {"name": "cyc"}, "transform": [{"filter": "datum.q != null"}], "mark": {"type": "line", "strokeWidth": 1.2},
        "encoding": {"color": {"field": "s", "type": "nominal", "scale": {"domain": ["CCE", "FEC/TEP", "FEC/TFP"], "range": ["#808000", "#008080", "#f0147c"]}, "legend": null}}},
       {"data": {"name": "cyc"}, "transform": [{"filter": "datum.q != null"}], "mark": {"type": "point", "filled": true, "opacity": 1},
        "encoding": {
          "color": {"field": "s", "type": "nominal", "scale": {"domain": ["CCE", "FEC/TEP", "FEC/TFP"], "range": ["#808000", "#008080", "#f0147c"]}, "legend": null},
          "shape": {"field": "s", "type": "nominal", "scale": {"domain": ["CCE", "FEC/TEP", "FEC/TFP"], "range": ["triangle-up", "square", "circle"]}, "legend": null},
          "size": {"field": "s", "type": "nominal", "scale": {"domain": ["CCE", "FEC/TEP", "FEC/TFP"], "range": [100, 81, 121]}, "legend": null}
        }},
       {"data": {"name": "cyc"}, "transform": [{"filter": "datum.q != null"}], "mark": {"type": "point", "filled": true, "opacity": 0},
        "encoding": {
          "color": {"field": "s", "type": "nominal", "scale": {"domain": ["CCE", "FEC/TEP", "FEC/TFP"], "range": ["#808000", "#008080", "#f0147c"]},
            "legend": {"orient": "none", "legendX": 20, "legendY": 138, "title": null, "padding": 0, "labelFontSize": 20, "labelOffset": 12, "symbolSize": 100, "rowPadding": 4, "symbolOpacity": 1, "symbolStrokeWidth": 0}},
          "shape": {"field": "s", "type": "nominal", "scale": {"domain": ["CCE", "FEC/TEP", "FEC/TFP"], "range": ["M-3,-0.13H3V0.13H-3ZM-0.95,0.8L0,-0.9L0.95,0.8Z", "M-3,-0.13H3V0.13H-3ZM-0.85,-0.85H0.85V0.85H-0.85Z", "M-3,-0.13H3V0.13H-3ZM-1.05,0A1.05,1.05,0,1,1,1.05,0A1.05,1.05,0,1,1,-1.05,0Z"]},
            "legend": {"orient": "none", "legendX": 20, "legendY": 138, "title": null, "padding": 0, "labelFontSize": 20, "labelOffset": 12, "symbolSize": 100, "rowPadding": 4, "symbolOpacity": 1, "symbolStrokeWidth": 0}}
        }},
       {"data": {"values": [{"c": 2.45, "q": 143, "t": "0.2C"}, {"c": 4.69, "q": 187, "t": "0.5C"}, {"c": 10.0, "q": 169.7, "t": "1C"}, {"c": 14.56, "q": 148.5, "t": "2C"}, {"c": 19.65, "q": 131.5, "t": "3C"}, {"c": 24.55, "q": 114.5, "t": "4C"}, {"c": 29.86, "q": 97.6, "t": "5C"}, {"c": 34.86, "q": 54.7, "t": "7C"}, {"c": 39.93, "q": 116.7, "t": "10C"}, {"c": 45.1, "q": 126, "t": "1C"}]},
        "mark": {"type": "text", "fontSize": 20, "align": "center", "baseline": "middle"}, "encoding": {"text": {"field": "t"}}},
       {"data": {"values": [{"c": 13.65, "q": 31.8, "t": "Cathode: 0.66 mAh cm⁻²"}]},
        "mark": {"type": "text", "fontSize": 20, "align": "left", "baseline": "middle"}, "encoding": {"text": {"field": "t"}}},
       {"data": {"values": [{"c": 2, "q": 157, "q2": 217}]}, "mark": {"type": "rule", "color": "#000000", "strokeWidth": 1.4}, "encoding": {"y2": {"field": "q2"}}},
       {"data": {"values": [{"c": 2, "q": 217}]}, "mark": {"type": "point", "shape": "triangle-up", "filled": true, "color": "#000000", "size": 45, "opacity": 1}},
       {"data": {"values": [{"c": 1, "q": 270, "t": "a"}]}, "mark": {"type": "text", "fontSize": 38, "fontWeight": "bold", "align": "left", "baseline": "middle", "dx": -112.4, "dy": -13.8},
        "encoding": {"text": {"field": "t"}}}
     ]
    },
    {
     "data": {"name": "cyc"},
     "encoding": {
       "x": {"field": "c", "type": "quantitative", "title": "Cycle number"},
       "y": {"field": "e", "type": "quantitative", "title": "Coulombic efficiency (%)", "scale": {"domain": [0, 105], "nice": false}, "axis": {"orient": "right", "values": [0,10,20,30,40,50,60,70,80,90,100], "labelExpr": "datum.value % 20 === 0 ? datum.label : ''", "labelFontSize": 20, "titleFontSize": 20, "labelPadding": 8, "titlePadding": 8}},
       "color": {"field": "s", "type": "nominal", "scale": {"domain": ["CCE", "FEC/TEP", "FEC/TFP"], "range": ["#808000", "#008080", "#f0147c"]}, "legend": null}
     },
     "layer": [
       {"mark": {"type": "line", "strokeWidth": 1}},
       {"mark": {"type": "point", "filled": false, "fill": "white", "strokeWidth": 1.3, "opacity": 1},
        "encoding": {
          "shape": {"field": "s", "type": "nominal", "scale": {"domain": ["CCE", "FEC/TEP", "FEC/TFP"], "range": ["triangle-up", "square", "circle"]}, "legend": null},
          "size": {"field": "s", "type": "nominal", "scale": {"domain": ["CCE", "FEC/TEP", "FEC/TFP"], "range": [100, 81, 121]}, "legend": null}
        }}
     ]
    }
   ]
  }
 ]
},
{
 "spacing": 0,
 "align": "none",
 "resolve": {"scale": {"color": "independent", "x": "independent", "y": "independent"}, "legend": {"color": "independent"}},
 "hconcat": [
  {
   "width": 283, "height": 218,
   "data": {"name": "bd"},
   "encoding": {
     "x": {"field": "q", "type": "quantitative", "title": "Specific capacity (mAh g⁻¹)", "scale": {"domain": [-10, 300], "nice": false, "zero": false}, "axis": {"values": [0,25,50,75,100,125,150,175,200,225,250,275,300], "labelExpr": "datum.value % 50 === 0 ? datum.label : ''", "labelFontSize": 19, "titleFontSize": 20, "labelPadding": 8, "titlePadding": 4}},
     "y": {"field": "v", "type": "quantitative", "title": "Voltage (V vs. Li/Li⁺)", "scale": {"domain": [2.9, 4.9], "nice": false, "zero": false}, "axis": {"values": [3,3.15,3.3,3.45,3.6,3.75,3.9,4.05,4.2,4.35,4.5,4.65,4.8], "labelExpr": "round(datum.value*100) % 30 === 0 ? format(datum.value, '.1f') : ''", "labelFontSize": 19, "titleFontSize": 20, "labelPadding": 7, "titlePadding": 6}}
   },
   "layer": [
     {"transform": [{"filter": "datum.k === 'c'"}], "mark": {"type": "line", "strokeWidth": 2.6},
      "encoding": {"order": {"field": "v", "type": "quantitative", "sort": "ascending"},
        "color": {"field": "r", "type": "nominal", "scale": {"domain": ["0.2C","0.5C","1C","2C","3C","4C","5C","7C","10C"], "range": ["#e41e1e","#2c5c9a","#fbc02d","#44b870","#5f5f92","#a8a8a8","#f27878","#6e9fd8","#c46a1e"]},
          "legend": {"orient": "none", "legendX": 219, "legendY": 2.5, "title": null, "padding": 0, "symbolType": "stroke", "symbolSize": 441, "symbolStrokeWidth": 3, "labelFontSize": 17, "labelOffset": 3, "rowPadding": 1, "symbolOpacity": 1}}}},
     {"transform": [{"filter": "datum.k === 'd'"}], "mark": {"type": "line", "strokeWidth": 2.6},
      "encoding": {"order": {"field": "v", "type": "quantitative", "sort": "descending"},
        "color": {"field": "r", "type": "nominal", "scale": {"domain": ["0.2C","0.5C","1C","2C","3C","4C","5C","7C","10C"], "range": ["#e41e1e","#2c5c9a","#fbc02d","#44b870","#5f5f92","#a8a8a8","#f27878","#6e9fd8","#c46a1e"]},
          "legend": {"orient": "none", "legendX": 219, "legendY": 2.5, "title": null, "padding": 0, "symbolType": "stroke", "symbolSize": 441, "symbolStrokeWidth": 3, "labelFontSize": 17, "labelOffset": 3, "rowPadding": 1, "symbolOpacity": 1}}}},
     {"data": {"values": [{"q": 0.5, "v": 4.77, "t": "CCE"}]}, "mark": {"type": "text", "fontSize": 19, "align": "left", "baseline": "middle"},
      "encoding": {"text": {"field": "t"}}},
     {"data": {"values": [{"q": 0, "v": 4.8, "t": "b"}]}, "mark": {"type": "text", "fontSize": 38, "fontWeight": "bold", "align": "left", "baseline": "middle", "dx": -76.8, "dy": -20.8},
      "encoding": {"text": {"field": "t"}}}
   ]
  },
  {
   "width": 283, "height": 218,
   "data": {"name": "cd"},
   "encoding": {
     "x": {"field": "q", "type": "quantitative", "title": "Specific capacity (mAh g⁻¹)", "scale": {"domain": [-10, 300], "nice": false, "zero": false}, "axis": {"values": [0,25,50,75,100,125,150,175,200,225,250,275,300], "labelExpr": "datum.value % 50 === 0 ? datum.label : ''", "labelFontSize": 19, "titleFontSize": 20, "labelPadding": 8, "titlePadding": 4}},
     "y": {"field": "v", "type": "quantitative", "title": "Voltage (V vs. Li/Li⁺)", "scale": {"domain": [2.9, 4.9], "nice": false, "zero": false}, "axis": {"values": [3,3.15,3.3,3.45,3.6,3.75,3.9,4.05,4.2,4.35,4.5,4.65,4.8], "labelExpr": "round(datum.value*100) % 30 === 0 ? format(datum.value, '.1f') : ''", "labelFontSize": 19, "titleFontSize": 20, "labelPadding": 7, "titlePadding": 6}}
   },
   "layer": [
     {"transform": [{"filter": "datum.k === 'c'"}], "mark": {"type": "line", "strokeWidth": 2.6},
      "encoding": {"order": {"field": "v", "type": "quantitative", "sort": "ascending"},
        "color": {"field": "r", "type": "nominal", "scale": {"domain": ["0.2C","0.5C","1C","2C","3C","4C","5C","7C","10C"], "range": ["#e41e1e","#2c5c9a","#fbc02d","#44b870","#5f5f92","#a8a8a8","#f27878","#6e9fd8","#c46a1e"]},
          "legend": {"orient": "none", "legendX": 219, "legendY": 2.5, "title": null, "padding": 0, "symbolType": "stroke", "symbolSize": 441, "symbolStrokeWidth": 3, "labelFontSize": 17, "labelOffset": 3, "rowPadding": 1, "symbolOpacity": 1}}}},
     {"transform": [{"filter": "datum.k === 'd'"}], "mark": {"type": "line", "strokeWidth": 2.6},
      "encoding": {"order": {"field": "v", "type": "quantitative", "sort": "descending"},
        "color": {"field": "r", "type": "nominal", "scale": {"domain": ["0.2C","0.5C","1C","2C","3C","4C","5C","7C","10C"], "range": ["#e41e1e","#2c5c9a","#fbc02d","#44b870","#5f5f92","#a8a8a8","#f27878","#6e9fd8","#c46a1e"]},
          "legend": {"orient": "none", "legendX": 219, "legendY": 2.5, "title": null, "padding": 0, "symbolType": "stroke", "symbolSize": 441, "symbolStrokeWidth": 3, "labelFontSize": 17, "labelOffset": 3, "rowPadding": 1, "symbolOpacity": 1}}}},
     {"data": {"values": [{"q": 0.5, "v": 4.77, "t": "FEC/TEP"}]}, "mark": {"type": "text", "fontSize": 19, "align": "left", "baseline": "middle"},
      "encoding": {"text": {"field": "t"}}},
     {"data": {"values": [{"q": 0, "v": 4.8, "t": "c"}]}, "mark": {"type": "text", "fontSize": 38, "fontWeight": "bold", "align": "left", "baseline": "middle", "dx": -71.7, "dy": -20.8},
      "encoding": {"text": {"field": "t"}}}
   ]
  },
  {
   "width": 283, "height": 218,
   "data": {"name": "dd"},
   "encoding": {
     "x": {"field": "q", "type": "quantitative", "title": "Specific capacity (mAh g⁻¹)", "scale": {"domain": [-10, 300], "nice": false, "zero": false}, "axis": {"values": [0,25,50,75,100,125,150,175,200,225,250,275,300], "labelExpr": "datum.value % 50 === 0 ? datum.label : ''", "labelFontSize": 19, "titleFontSize": 20, "labelPadding": 8, "titlePadding": 4}},
     "y": {"field": "v", "type": "quantitative", "title": "Voltage (V vs. Li/Li⁺)", "scale": {"domain": [2.9, 4.9], "nice": false, "zero": false}, "axis": {"values": [3,3.15,3.3,3.45,3.6,3.75,3.9,4.05,4.2,4.35,4.5,4.65,4.8], "labelExpr": "round(datum.value*100) % 30 === 0 ? format(datum.value, '.1f') : ''", "labelFontSize": 19, "titleFontSize": 20, "labelPadding": 7, "titlePadding": 6}}
   },
   "layer": [
     {"transform": [{"filter": "datum.k === 'c'"}], "mark": {"type": "line", "strokeWidth": 2.6},
      "encoding": {"order": {"field": "v", "type": "quantitative", "sort": "ascending"},
        "color": {"field": "r", "type": "nominal", "scale": {"domain": ["0.2C","0.5C","1C","2C","3C","4C","5C","7C","10C"], "range": ["#e41e1e","#2c5c9a","#fbc02d","#44b870","#5f5f92","#a8a8a8","#f27878","#6e9fd8","#c46a1e"]},
          "legend": {"orient": "none", "legendX": 219, "legendY": 2.5, "title": null, "padding": 0, "symbolType": "stroke", "symbolSize": 441, "symbolStrokeWidth": 3, "labelFontSize": 17, "labelOffset": 3, "rowPadding": 1, "symbolOpacity": 1}}}},
     {"transform": [{"filter": "datum.k === 'd'"}], "mark": {"type": "line", "strokeWidth": 2.6},
      "encoding": {"order": {"field": "v", "type": "quantitative", "sort": "descending"},
        "color": {"field": "r", "type": "nominal", "scale": {"domain": ["0.2C","0.5C","1C","2C","3C","4C","5C","7C","10C"], "range": ["#e41e1e","#2c5c9a","#fbc02d","#44b870","#5f5f92","#a8a8a8","#f27878","#6e9fd8","#c46a1e"]},
          "legend": {"orient": "none", "legendX": 219, "legendY": 2.5, "title": null, "padding": 0, "symbolType": "stroke", "symbolSize": 441, "symbolStrokeWidth": 3, "labelFontSize": 17, "labelOffset": 3, "rowPadding": 1, "symbolOpacity": 1}}}},
     {"data": {"values": [{"q": 0.5, "v": 4.77, "t": "FEC/TFP"}]}, "mark": {"type": "text", "fontSize": 19, "align": "left", "baseline": "middle"},
      "encoding": {"text": {"field": "t"}}},
     {"data": {"values": [{"q": 0, "v": 4.8, "t": "d"}]}, "mark": {"type": "text", "fontSize": 38, "fontWeight": "bold", "align": "left", "baseline": "middle", "dx": -73, "dy": -20.8},
      "encoding": {"text": {"field": "t"}}}
   ]
  }
 ]
}
]
}
